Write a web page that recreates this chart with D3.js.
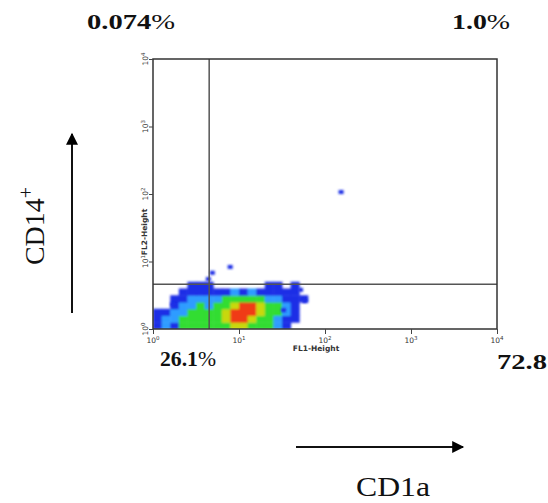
<!DOCTYPE html>
<html>
<head>
<meta charset="utf-8">
<script src="https://cdn.jsdelivr.net/npm/d3@7"></script>
<style>
  body { margin: 0; background: #fff; }
</style>
</head>
<body>
<div id="grafico"></div>
<script>
// Datos (escala log, 10^0 .. 10^4)
var decadas = [1, 10, 100, 1000, 10000];
var exponentes = ["0", "1", "2", "3", "4"];
var compuertaX = 4.5;   // FL1 gate
var compuertaY = 4.6;   // FL2 gate
var porcentajes = ["0.074", "1.0", "26.1", "72.8"];
// densidad por celdas de 0.1 decada (fila 0 = abajo). 0 vacio, 1 azul .. 5 rojo
var densidad = [
  [1,2,1,3,3,3,3,3,3,4,4,3,3,3,2,1,0,0],
  [1,2,2,3,3,3,3,3,4,5,5,4,3,3,2,1,1,0],
  [1,1,2,2,3,3,3,3,4,5,5,5,4,3,3,2,1,0],
  [0,0,1,2,2,3,2,3,3,4,5,5,4,3,3,2,1,0],
  [0,0,1,1,2,2,2,2,3,3,3,3,3,2,2,1,1,1],
  [0,0,0,1,1,1,1,1,1,2,1,2,1,1,1,1,1,0],
  [0,0,0,0,1,1,1,0,0,0,0,0,0,1,1,0,1,0]
];
// eventos sueltos [FL1, FL2]
var sueltos = [[7.9, 8.3], [4.9, 6.8], [4.4, 5.5], [154, 107], [1.7, 2.3], [52, 3.8], [33, 1.9], [58, 2.6]];
var colores = [null, "#1f2fe6", "#2f9cff", "#33dd33", "#c8d80f", "#f03a12"];

var b = 548, h = 503;
var svg = d3.select("#grafico").append("svg").attr("width", b).attr("height", h)
    .style("font-family", "'Liberation Serif', serif");

var x = d3.scaleLog().domain([1, 10000]).range([153, 497]);
var y = d3.scaleLog().domain([1, 10000]).range([329, 59]);

var defs = svg.append("defs");
defs.append("filter").attr("id", "borroso")
    .append("feGaussianBlur").attr("stdDeviation", 0.9);
defs.append("clipPath").attr("id", "ventana").append("rect")
    .attr("x", 153).attr("y", 59).attr("width", 344).attr("height", 270);

// celdas de densidad
var celdas = [];
densidad.forEach(function (fila, j) {
  fila.forEach(function (v, i) {
    if (v > 0) celdas.push({i: i, j: j, v: v});
  });
});
svg.append("g").attr("clip-path", "url(#ventana)").attr("filter", "url(#borroso)")
  .selectAll("rect").data(celdas).enter().append("rect")
  .attr("x", function (d) { return x(Math.pow(10, d.i * 0.1)); })
  .attr("y", function (d) { return y(Math.pow(10, (d.j + 1) * 0.1)); })
  .attr("width", function (d) { return x(Math.pow(10, (d.i + 1) * 0.1)) - x(Math.pow(10, d.i * 0.1)) + 0.5; })
  .attr("height", function (d) { return y(Math.pow(10, d.j * 0.1)) - y(Math.pow(10, (d.j + 1) * 0.1)) + 0.5; })
  .attr("fill", function (d) { return colores[d.v]; });

svg.append("g").attr("filter", "url(#borroso)")
  .selectAll("rect").data(sueltos).enter().append("rect")
  .attr("x", function (d) { return x(d[0]) - 2.5; })
  .attr("y", function (d) { return y(d[1]) - 2; })
  .attr("width", 5).attr("height", 4)
  .attr("fill", colores[1]);

// compuertas
svg.append("line").attr("x1", x(compuertaX)).attr("x2", x(compuertaX))
  .attr("y1", y(10000)).attr("y2", y(1))
  .attr("stroke", "#555").attr("stroke-width", 1.5);
svg.append("line").attr("x1", x(1)).attr("x2", x(10000))
  .attr("y1", y(compuertaY)).attr("y2", y(compuertaY))
  .attr("stroke", "#555").attr("stroke-width", 1.5);

// marco
svg.append("rect").attr("x", x(1)).attr("y", y(10000))
  .attr("width", x(10000) - x(1)).attr("height", y(1) - y(10000))
  .attr("fill", "none").attr("stroke", "#333").attr("stroke-width", 1.5);

// ticks menores y mayores
var menores = [];
decadas.slice(0, 4).forEach(function (d) {
  for (var k = 2; k < 10; k++) menores.push(d * k);
});
var ejeX = svg.append("g").attr("transform", "translate(0," + y(1) + ")");
ejeX.call(d3.axisBottom(x).tickValues(menores).tickSize(3).tickFormat(""));
ejeX.call(d3.axisBottom(x).tickValues(decadas).tickSize(5).tickFormat(""));
ejeX.selectAll(".domain").remove();
ejeX.selectAll("line").attr("stroke", "#444");

var ejeY = svg.append("g").attr("transform", "translate(" + x(1) + ",0)");
ejeY.call(d3.axisLeft(y).tickValues(decadas).tickSize(4).tickFormat(""));
ejeY.selectAll(".domain").remove();
ejeY.selectAll("line").attr("stroke", "#444");

// etiquetas de ticks
var etX = svg.append("g").style("font-family", "'DejaVu Sans', sans-serif")
  .attr("fill", "#333").attr("font-size", 7.5);
decadas.forEach(function (d, k) {
  var t = etX.append("text").attr("x", x(d)).attr("y", 343).attr("text-anchor", "middle");
  t.append("tspan").text("10");
  t.append("tspan").attr("dy", -3).attr("font-size", 5.5).text(exponentes[k]);
});
decadas.forEach(function (d, k) {
  var t = etX.append("text").attr("transform", "translate(148," + y(d) + ") rotate(-90)")
    .attr("text-anchor", "middle");
  t.append("tspan").text("10");
  t.append("tspan").attr("dy", -3).attr("font-size", 5.5).text(exponentes[k]);
});
etX.append("text").attr("x", 316).attr("y", 351).attr("text-anchor", "middle")
  .attr("font-size", 7.5).attr("font-weight", "bold").text("FL1-Height");
etX.append("text").attr("transform", "translate(147,232) rotate(-90)").attr("text-anchor", "middle")
  .attr("font-size", 7.5).attr("font-weight", "bold").text("FL2-Height");

// porcentajes de cuadrantes: [x, y, ancla, con %, ancho]
var pos = [[87, 29, "start", true, 88], [510, 29, "end", true, 58], [160, 366, "start", true, 56], [547, 369, "end", false, 50]];
porcentajes.forEach(function (p, k) {
  var t = svg.append("text").attr("x", pos[k][0]).attr("y", pos[k][1])
    .attr("text-anchor", pos[k][2]).attr("font-size", 21).attr("font-weight", "bold").attr("fill", "#111")
    .attr("textLength", pos[k][4]).attr("lengthAdjust", "spacingAndGlyphs");
  t.append("tspan").text(p);
  if (pos[k][3]) t.append("tspan").attr("font-weight", "normal").text("%");
});

// flechas y nombres de marcadores
defs.append("marker").attr("id", "punta").attr("viewBox", "0 0 10 10")
  .attr("refX", 9).attr("refY", 5).attr("markerWidth", 15).attr("markerHeight", 12)
  .attr("markerUnits", "userSpaceOnUse").attr("orient", "auto")
  .append("path").attr("d", "M0,0L10,5L0,10Z").attr("fill", "#000");
svg.append("line").attr("x1", 72).attr("x2", 72).attr("y1", 313).attr("y2", 134)
  .attr("stroke", "#111").attr("stroke-width", 2).attr("marker-end", "url(#punta)");
svg.append("line").attr("x1", 296).attr("x2", 463).attr("y1", 447).attr("y2", 447)
  .attr("stroke", "#111").attr("stroke-width", 2).attr("marker-end", "url(#punta)");

var cd14 = svg.append("text").attr("transform", "translate(44,226) rotate(-90)")
  .attr("text-anchor", "middle").attr("font-size", 28).attr("fill", "#111");
cd14.append("tspan").text("CD14");
cd14.append("tspan").attr("dy", -11).attr("font-size", 20).text("+");

svg.append("text").attr("x", 393).attr("y", 496).attr("text-anchor", "middle")
  .attr("font-size", 27).attr("fill", "#111")
  .attr("textLength", 74).attr("lengthAdjust", "spacingAndGlyphs").text("CD1a");
</script>
</body>
</html>
